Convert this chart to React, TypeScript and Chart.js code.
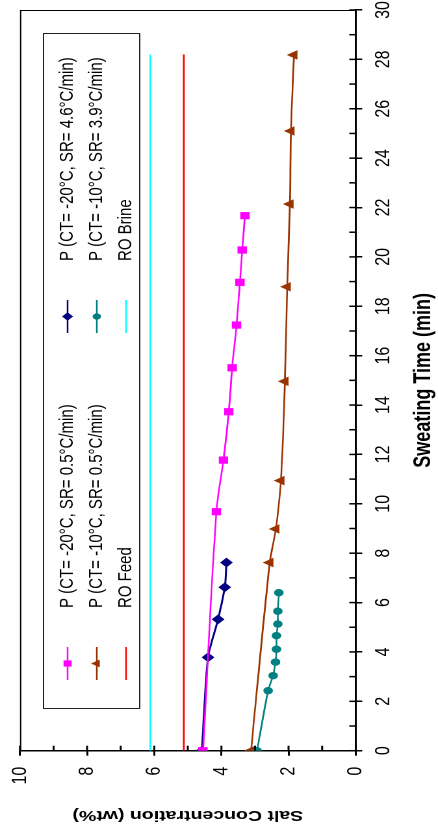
import React, { useEffect, useRef } from "react";
import { Chart, registerables } from "chart.js";

Chart.register(...registerables);

// ---- canvas geometry (chart drawn upright, then rotated -90deg and stretched) ----
const W = 835;
const H = 337;
const K = 438 / H;
const FONT = '"Liberation Sans", Arial, Helvetica, sans-serif';

// ---- data ----
const timeTitle = "Sweating Time (min)";
const saltTitle = "Salt Concentration (wt%)";

const seriesNames = [
  "P (CT= -20°C, SR= 0.5°C/min)",
  "P (CT= -20°C, SR= 4.6°C/min)",
  "P (CT= -10°C, SR= 0.5°C/min)",
  "P (CT= -10°C, SR= 3.9°C/min)",
  "RO Feed",
  "RO Brine",
];

const pinkTime = [0, 9.68, 11.77, 13.73, 15.51, 17.24, 18.97, 20.28, 21.67];
const pinkSalt = [4.55, 4.15, 3.94, 3.78, 3.68, 3.55, 3.45, 3.38, 3.3];

const navyTime = [0, 3.78, 5.32, 6.62, 7.62];
const navySalt = [4.58, 4.4, 4.1, 3.9, 3.85];

const brownTime = [0, 7.62, 8.98, 10.94, 14.96, 18.79, 22.14, 25.1, 28.18];
const brownSalt = [3.12, 2.56, 2.38, 2.23, 2.11, 2.04, 1.96, 1.93, 1.84];

const tealTime = [0, 2.43, 3.04, 3.59, 4.11, 4.66, 5.13, 5.65, 6.4];
const tealSalt = [2.94, 2.61, 2.46, 2.39, 2.36, 2.36, 2.32, 2.32, 2.29];

const roTime = [0, 28.2];
const roFeedSalt = [5.12, 5.12];
const roBrineSalt = [6.12, 6.12];

const timeMin = 0;
const timeMax = 30;
const timeMajorStep = 2;
const timeMinorStep = 1;
const saltMin = 0;
const saltMax = 10;
const saltMajorStep = 2;
const saltMinorStep = 1;

const pts = (xs: number[], ys: number[]) => xs.map((x, i) => ({ x, y: ys[i] }));

const framePlugin = {
  id: "frameTicksLegend",
  afterDraw(chart: any) {
    const { ctx, chartArea: a, scales } = chart;
    const xs = scales.x;
    const ys = scales.y;
    ctx.save();
    // top & right frame of plot area
    ctx.strokeStyle = "#000";
    ctx.lineWidth = 1;
    ctx.beginPath();
    ctx.moveTo(a.left, a.top + 0.5);
    ctx.lineTo(a.right - 0.5, a.top + 0.5);
    ctx.lineTo(a.right - 0.5, a.bottom);
    ctx.stroke();

    // inner tick marks (major + minor)
    ctx.lineWidth = 1.5;
    ctx.beginPath();
    for (let t = timeMin; t <= timeMax; t += timeMinorStep) {
      const px = xs.getPixelForValue(t);
      ctx.moveTo(px, a.bottom);
      ctx.lineTo(px, a.bottom - 5);
    }
    for (let s = saltMin; s <= saltMax; s += saltMinorStep) {
      const py = ys.getPixelForValue(s);
      ctx.moveTo(a.left, py);
      ctx.lineTo(a.left + 5, py);
    }
    ctx.stroke();

    // legend box
    const bx = 126, by = 33, bw = 675, bh = 74;
    ctx.fillStyle = "#fff";
    ctx.fillRect(bx, by, bw, bh);
    ctx.strokeStyle = "#222";
    ctx.lineWidth = 1;
    ctx.strokeRect(bx + 0.5, by + 0.5, bw, bh);

    const rowsY = [52, 74.5, 97];
    const colX = [155, 502];
    ctx.font = `15px ${FONT}`;
    ctx.textBaseline = "middle";
    ctx.textAlign = "left";
    chart.data.datasets.forEach((ds: any, i: number) => {
      const row = Math.floor(i / 2);
      const col = i % 2;
      const y = rowsY[row];
      const x0 = colX[col];
      const color = ds.borderColor;
      ctx.strokeStyle = color;
      ctx.lineWidth = 1.3;
      ctx.beginPath();
      ctx.moveTo(x0, y);
      ctx.lineTo(x0 + 33, y);
      ctx.stroke();
      const cx = x0 + 16.5;
      ctx.fillStyle = color;
      const st = ds.pointStyle;
      const r = ds.pointRadius || 0;
      if (r > 0) {
        ctx.beginPath();
        if (st === "rect") {
          const h = r * Math.SQRT1_2;
          ctx.rect(cx - h, y - h, 2 * h, 2 * h);
        } else if (st === "rectRot") {
          ctx.moveTo(cx - r, y);
          ctx.lineTo(cx, y - r);
          ctx.lineTo(cx + r, y);
          ctx.lineTo(cx, y + r);
          ctx.closePath();
        } else if (st === "triangle") {
          ctx.moveTo(cx, y - r);
          ctx.lineTo(cx + r * 0.866, y + r * 0.5);
          ctx.lineTo(cx - r * 0.866, y + r * 0.5);
          ctx.closePath();
        } else {
          ctx.arc(cx, y, r, 0, Math.PI * 2);
        }
        ctx.fill();
      }
      ctx.fillStyle = "#000";
      ctx.fillText(seriesNames[i], x0 + 72, y);
    });
    ctx.restore();
  },
};

export default function App() {
  const ref = useRef<HTMLCanvasElement | null>(null);

  useEffect(() => {
    if (!ref.current) return;
    Chart.defaults.font.family = FONT;
    const common = { showLine: true, borderWidth: 1.3, pointBorderWidth: 1 };
    const chart = new Chart(ref.current, {
      type: "scatter",
      data: {
        datasets: [
          {
            ...common,
            label: seriesNames[0],
            data: pts(pinkTime, pinkSalt),
            borderColor: "#FF00FF",
            backgroundColor: "#FF00FF",
            pointStyle: "rect",
            pointRadius: 4.4,
            tension: 0.35,
          },
          {
            ...common,
            label: seriesNames[1],
            data: pts(navyTime, navySalt),
            borderColor: "#000080",
            backgroundColor: "#000080",
            pointStyle: "rectRot",
            pointRadius: 4.2,
            borderWidth: 1.5,
            tension: 0.2,
          },
          {
            ...common,
            label: seriesNames[2],
            data: pts(brownTime, brownSalt),
            borderColor: "#993300",
            backgroundColor: "#993300",
            pointStyle: "triangle",
            pointRadius: 4.5,
            tension: 0.35,
          },
          {
            ...common,
            label: seriesNames[3],
            data: pts(tealTime, tealSalt),
            borderColor: "#008080",
            backgroundColor: "#008080",
            pointStyle: "circle",
            pointRadius: 3.2,
            tension: 0.2,
          },
          {
            ...common,
            label: seriesNames[4],
            data: pts(roTime, roFeedSalt),
            borderColor: "#FF0000",
            backgroundColor: "#FF0000",
            pointRadius: 0,
          },
          {
            ...common,
            label: seriesNames[5],
            data: pts(roTime, roBrineSalt),
            borderColor: "#00FFFF",
            backgroundColor: "#00FFFF",
            pointRadius: 0,
          },
        ],
      },
      options: {
        animation: false,
        responsive: false,
        devicePixelRatio: 2,
        layout: { padding: { top: 15.4, right: 10, left: 0, bottom: 0 } },
        plugins: { legend: { display: false }, tooltip: { enabled: false } },
        scales: {
          x: {
            type: "linear",
            position: "bottom",
            min: timeMin,
            max: timeMax,
            ticks: {
              stepSize: timeMajorStep,
              color: "#000",
              font: { family: FONT, size: 16 },
              padding: 7,
              maxRotation: 0,
              autoSkip: false,
            },
            grid: {
              drawOnChartArea: false,
              drawTicks: true,
              tickLength: 5,
              color: "#000",
              lineWidth: 1.5,
            },
            border: { display: true, color: "#000", width: 1.5 },
            title: {
              display: true,
              text: timeTitle,
              color: "#000",
              font: { family: FONT, size: 18, weight: "bold", lineHeight: 1.2 },
              padding: { top: 0, bottom: 0 },
            },
            afterFit: (s: any) => {
              s.height = H - 273.7;
              s.paddingLeft = 0;
              s.paddingRight = 0;
              s.paddingTop = 0;
              s.paddingBottom = 0;
            },
          },
          y: {
            type: "linear",
            position: "left",
            min: saltMin,
            max: saltMax,
            ticks: {
              stepSize: saltMajorStep,
              color: "#000",
              font: { family: FONT, size: 16 },
              padding: 11,
            },
            grid: {
              drawOnChartArea: false,
              drawTicks: true,
              tickLength: 5,
              color: "#000",
              lineWidth: 1.5,
            },
            border: { display: true, color: "#000", width: 1.5 },
            title: {
              display: true,
              text: saltTitle,
              color: "#000",
              font: { family: FONT, size: 15, weight: "bold", lineHeight: 1.2 },
              padding: { top: 11, bottom: 0 },
            },
            afterFit: (s: any) => {
              s.width = 84.3;
              s.paddingLeft = 0;
              s.paddingRight = 0;
              s.paddingTop = 0;
              s.paddingBottom = 0;
            },
          },
        },
      } as any,
      plugins: [framePlugin],
    });
    return () => chart.destroy();
  }, []);

  return (
    <div
      style={{
        position: "fixed",
        left: 0,
        top: 0,
        width: 438,
        height: 835,
        overflow: "hidden",
        background: "#fff",
      }}
    >
      <div
        style={{
          position: "absolute",
          left: 0,
          top: 0,
          width: W,
          height: H,
          transformOrigin: "0 0",
          transform: `translateY(${W}px) rotate(-90deg) scale(1, ${K})`,
        }}
      >
        <canvas ref={ref} width={W} height={H} style={{ display: "block" }} />
      </div>
    </div>
  );
}
